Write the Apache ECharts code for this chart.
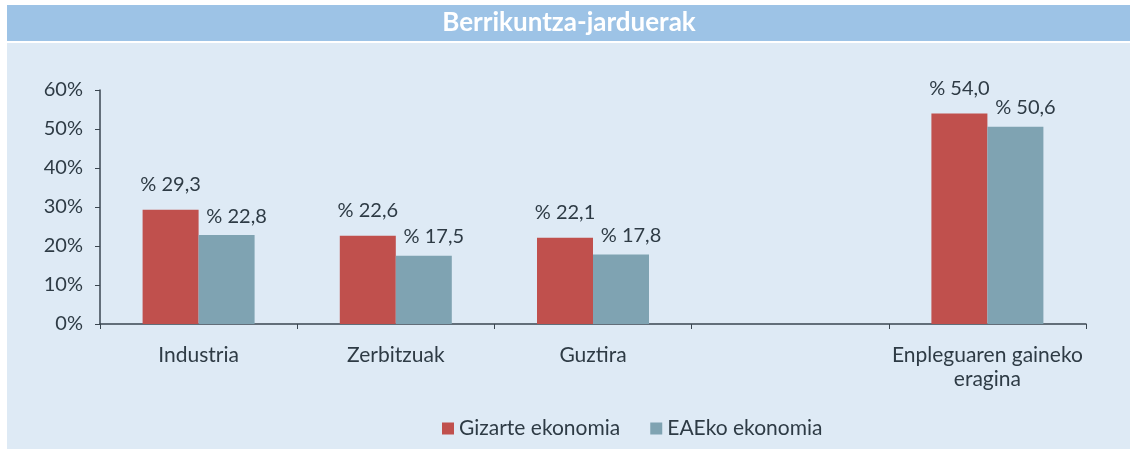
<!DOCTYPE html>
<html>
<head>
<meta charset="utf-8">
<script src="https://cdn.jsdelivr.net/npm/echarts@6/dist/echarts.min.js"></script>
<style>
  html, body { margin: 0; padding: 0; background: #ffffff; }
  #chart { width: 1130px; height: 454px; }
</style>
</head>
<body>
<div id="chart"></div>
<script>
const titleText = 'Berrikuntza-jarduerak'
const categories = ['Industria', 'Zerbitzuak', 'Guztira', '', 'Enpleguaren gaineko\neragina']
const gizarte = [29.3, 22.6, 22.1, null, 54.0]
const eae = [22.8, 17.5, 17.8, null, 50.6]
const seriesNames = ['Gizarte ekonomia', 'EAEko ekonomia']

const font = 'Lato, "Noto Sans", sans-serif'
const textColor = '#2e3b45'

const chart = echarts.init(document.getElementById('chart'))

const fmt = (p) => '% ' + p.value.toFixed(1).replace('.', ',')

const option = {
  backgroundColor: '#ffffff',
  textStyle: { fontFamily: font },
  graphic: [
    { type: 'rect', shape: { x: 7, y: 5, width: 1123, height: 36 }, style: { fill: '#9dc3e6' }, z: -10 },
    { type: 'rect', shape: { x: 7, y: 43, width: 1123, height: 406 }, style: { fill: '#deeaf5' }, z: -10 },
    {
      type: 'text', x: 569, y: 23,
      style: {
        text: titleText, fill: '#ffffff', fontFamily: font, fontWeight: 'bold',
        fontSize: 26, align: 'center', verticalAlign: 'middle'
      }
    }
  ],
  grid: { left: 100, right: 44, top: 90, bottom: 130 },
  legend: {
    data: seriesNames,
    left: 437,
    top: 413,
    itemWidth: 12,
    itemHeight: 12,
    itemGap: 30,
    icon: 'rect',
    textStyle: { color: textColor, fontSize: 21, fontFamily: font }
  },
  xAxis: {
    type: 'category',
    data: categories,
    axisLine: { lineStyle: { color: '#3a4650', width: 1.5 } },
    axisTick: { show: true, length: 5, lineStyle: { color: '#3a4650' } },
    axisLabel: { color: textColor, fontSize: 21, margin: 19, lineHeight: 24, interval: 0 }
  },
  yAxis: {
    type: 'value',
    min: 0,
    max: 60,
    interval: 10,
    axisLine: { show: true, lineStyle: { color: '#3a4650', width: 1.5 } },
    axisTick: { show: true, length: 5, lineStyle: { color: '#3a4650' } },
    splitLine: { show: false },
    axisLabel: { color: textColor, fontSize: 20, margin: 17, formatter: '{value}%' }
  },
  series: [
    {
      name: seriesNames[0],
      type: 'bar',
      data: gizarte,
      barWidth: 56,
      barGap: '0%',
      itemStyle: { color: '#c0504d' },
      label: {
        show: true, position: 'top', distance: 5, offset: [0, -10],
        color: textColor, fontSize: 20, formatter: fmt
      }
    },
    {
      name: seriesNames[1],
      type: 'bar',
      data: eae,
      barWidth: 56,
      barGap: '0%',
      itemStyle: { color: '#7fa3b2' },
      label: {
        show: true, position: 'top', distance: 5, offset: [10, -4],
        color: textColor, fontSize: 20, formatter: fmt
      }
    }
  ]
}

chart.setOption(option)
</script>
</body>
</html>
